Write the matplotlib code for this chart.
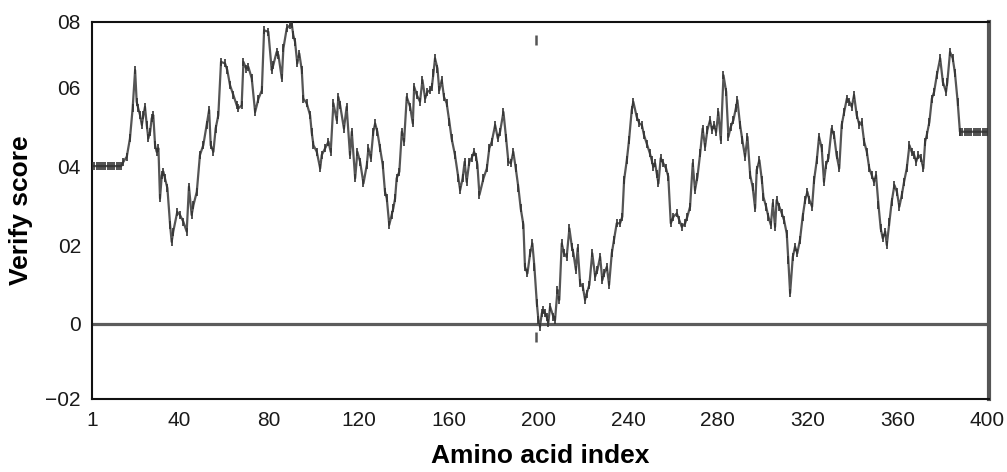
import matplotlib
matplotlib.use("Agg")
import matplotlib.pyplot as plt
import numpy as np

plt.rcParams["font.family"] = ["Liberation Sans", "DejaVu Sans"]

# residue index / verify score
plateau_start_x = list(range(1, 15))
plateau_start_y = [0.40] * 14

trace_x = [
    15.0, 16.5, 17.9, 19.1, 20.2, 20.9, 21.6, 22.4, 23.2, 23.9, 24.6, 25.4, 26.1, 26.9, 27.6, 28.3,
    29.1, 29.8, 30.6, 31.3, 32.1, 32.8, 33.5, 34.6, 35.8, 36.5, 37.2, 39.0, 40.2, 41.7, 43.2, 44.2,
    45.4, 46.2, 47.7, 49.1, 50.6, 52.1, 53.2, 53.9, 55.1, 56.1, 57.3, 58.5, 60.3, 61.3, 62.5, 64.0,
    65.5, 66.2, 67.7,
    68.5, 69.7, 70.7, 72.2, 73.7, 75.2, 76.7, 77.7, 79.6, 81.1, 81.8, 83.3, 84.1, 85.6, 86.3, 87.8,
    89.3, 90.0, 90.7, 91.5, 92.5, 93.4, 94.5, 95.2, 96.7, 98.2, 98.9, 99.7, 101.2, 102.7, 103.4,
    104.9, 106.4, 107.4, 108.6, 110.1, 110.8, 111.6, 113.3, 114.5, 116.0, 116.8, 118.3, 119.3,
    120.5, 122.0, 123.5, 124.2, 125.3, 126.4, 127.2, 128.2, 129.4, 130.6, 131.6, 132.4, 133.5,
    134.6,
    135.3, 136.1, 136.8, 138.0, 139.1, 140.1, 141.3, 142.8, 144.0, 144.6, 145.8, 147.2, 148.3,
    149.5, 150.5, 151.7, 152.5, 153.2, 153.9, 155.0, 155.8, 156.9, 157.9, 159.1, 160.3, 161.3,
    162.8, 164.3, 165.1, 166.2, 167.1, 168.0, 169.2, 170.2, 171.3, 172.2, 172.8, 173.7, 175.5,
    177.0, 178.1, 179.2, 180.7, 181.9, 182.9, 184.4, 185.6, 186.6, 187.7, 188.8, 189.9, 191.1,
    192.1, 193.3,
    194.0, 195.1, 196.3, 197.3, 198.2, 199.3, 200.0, 200.7, 201.5, 202.2, 203.0, 203.7, 204.4,
    205.2, 206.7, 207.4, 208.5, 209.3, 210.4, 211.4, 212.6, 213.8, 214.9, 215.6, 216.7, 217.5,
    218.6, 219.8, 220.8, 221.5, 222.7, 224.0, 225.3, 226.3, 227.5, 228.5, 229.3, 230.5, 231.5,
    232.7, 233.7, 234.9, 236.4, 237.4, 238.2, 239.4, 240.4, 241.6, 242.3, 243.8, 245.0, 246.1,
    247.1, 248.3, 249.7,
    250.5, 251.2, 252.0, 252.8, 253.5, 254.5, 255.7, 256.9, 257.9, 259.0, 260.2, 261.7, 262.8,
    263.9, 265.4, 266.4, 267.6, 268.8, 269.8, 270.9, 272.1, 273.2, 274.3, 275.3, 276.5, 277.4,
    278.3, 279.2, 280.2, 281.3, 282.5, 283.7, 284.7, 285.7, 286.9, 288.0, 288.7, 289.9, 290.9,
    292.1, 293.2, 294.4, 295.5, 296.6, 297.3, 298.5, 299.6, 300.3, 301.5, 302.5, 303.6, 304.5,
    305.5, 306.2, 307.4, 308.5, 309.5, 310.7, 311.4, 312.2, 313.4, 314.4, 315.4, 316.6, 317.8,
    318.9, 319.9, 320.8, 322.0, 322.9, 324.1, 325.1,
    326.3, 327.3, 328.2, 329.3, 330.7, 331.8, 332.9, 334.1, 335.2, 336.3, 337.5, 338.6, 339.7,
    340.7, 341.9, 343.1, 344.1, 345.2, 346.4, 347.5, 348.6, 349.6, 350.5, 351.6, 352.6, 353.5,
    354.6, 355.3, 356.5, 357.5, 358.7, 359.8, 360.9, 362.0, 363.0, 364.2, 365.4, 366.4, 367.5,
    368.4, 369.4, 370.5, 371.6, 372.4, 373.1, 374.3, 375.4, 376.4, 377.6, 379.1, 380.3, 381.7,
    382.3, 383.5, 384.7, 385.7, 386.9, 387.9,
]
trace_y = [
    0.411, 0.424, 0.470, 0.546, 0.643, 0.563, 0.546, 0.529, 0.504, 0.529, 0.550, 0.504, 0.470, 0.487, 0.521, 0.529,
    0.453, 0.436, 0.445, 0.318, 0.377, 0.386, 0.369, 0.344, 0.251, 0.208, 0.234, 0.284, 0.276, 0.259, 0.234, 0.348,
    0.276, 0.301, 0.335, 0.428, 0.453, 0.504, 0.542, 0.453, 0.436, 0.495, 0.529, 0.664, 0.660, 0.643, 0.605, 0.580,
    0.554, 0.546, 0.554,
    0.664, 0.647, 0.651, 0.622, 0.537, 0.571, 0.592, 0.744, 0.740, 0.643, 0.656, 0.689, 0.681, 0.622, 0.698, 0.749,
    0.757, 0.761, 0.732, 0.715, 0.660, 0.685, 0.643, 0.571, 0.559, 0.529, 0.487, 0.453, 0.436, 0.394, 0.428,
    0.445, 0.462, 0.436, 0.559, 0.516, 0.575, 0.554, 0.495, 0.550, 0.428, 0.487, 0.369, 0.436,
    0.411, 0.356, 0.403, 0.445, 0.420, 0.487, 0.508, 0.487, 0.445, 0.403, 0.335, 0.318, 0.251,
    0.276,
    0.293, 0.318, 0.369, 0.386, 0.487, 0.462, 0.575, 0.550, 0.508, 0.601, 0.580, 0.563, 0.618,
    0.571, 0.588, 0.592, 0.601, 0.635, 0.673, 0.647, 0.592, 0.618, 0.575, 0.559, 0.512, 0.470,
    0.428, 0.369, 0.339, 0.369, 0.411, 0.360, 0.411, 0.420, 0.436, 0.424, 0.403, 0.327, 0.369,
    0.394, 0.445, 0.462, 0.504, 0.470, 0.487, 0.537, 0.470, 0.411, 0.407, 0.436, 0.394, 0.344,
    0.293, 0.251,
    0.145, 0.128, 0.179, 0.204, 0.145, 0.052, 0.010, -0.007, 0.027, 0.035, 0.027, 0.018, 0.002,
    0.044, 0.018, 0.010, 0.086, 0.061, 0.204, 0.179, 0.170, 0.242, 0.196, 0.179, 0.137, 0.192,
    0.103, 0.094, 0.061, 0.077, 0.099, 0.179, 0.120, 0.137, 0.170, 0.111, 0.128, 0.145, 0.099,
    0.179, 0.213, 0.255, 0.255, 0.272, 0.365, 0.415, 0.466, 0.542, 0.563, 0.525, 0.508, 0.504,
    0.478, 0.457, 0.432,
    0.415, 0.398, 0.407, 0.380, 0.356, 0.420, 0.407, 0.394, 0.373, 0.255, 0.272, 0.280, 0.263,
    0.246, 0.255, 0.272, 0.297, 0.407, 0.339, 0.373, 0.432, 0.495, 0.449, 0.491, 0.516, 0.491,
    0.504, 0.486, 0.537, 0.466, 0.630, 0.588, 0.474, 0.499, 0.516, 0.546, 0.567, 0.504, 0.466,
    0.424, 0.474, 0.377, 0.347, 0.293, 0.390, 0.415, 0.365, 0.322, 0.297, 0.272, 0.251, 0.306,
    0.246, 0.314, 0.297, 0.280, 0.263, 0.229, 0.162, 0.078, 0.170, 0.196, 0.179, 0.213, 0.272,
    0.314, 0.335, 0.314, 0.297, 0.365, 0.415, 0.474,
    0.445, 0.360, 0.403, 0.420, 0.495, 0.478, 0.428, 0.394, 0.504, 0.537, 0.571, 0.563, 0.550,
    0.580, 0.529, 0.504, 0.512, 0.462, 0.436, 0.394, 0.377, 0.360, 0.377, 0.301, 0.242, 0.217,
    0.234, 0.200, 0.259, 0.310, 0.352, 0.335, 0.297, 0.327, 0.360, 0.394, 0.453, 0.436, 0.428,
    0.411, 0.428, 0.420, 0.394, 0.462, 0.478, 0.512, 0.571, 0.588, 0.630, 0.673, 0.613, 0.588,
    0.613, 0.689, 0.673, 0.635, 0.563, 0.487,
]
plateau_end_x = list(range(388, 401))
plateau_end_y = [0.487] * 13

# two stray points around residue 199
stray_x = [199, 199]
stray_y = [0.72, -0.033]

x_ticks = [1, 40, 80, 120, 160, 200, 240, 280, 320, 360, 400]
y_lo, y_hi = -0.19, 0.765
y_ticks = [y_lo, 0, 0.2, 0.4, 0.6, y_hi]
y_ticklabels = ["\u221202", "0", "02", "04", "06", "08"]

xs = np.array(plateau_start_x + trace_x + plateau_end_x, dtype=float)
ys = np.array(plateau_start_y + trace_y + plateau_end_y, dtype=float)

fig = plt.figure(figsize=(10.07, 4.72), dpi=100)
ax = fig.add_axes([0.0914, 0.1547, 0.8908, 0.7987])

ax.axhline(0, color="#5c5c5c", linewidth=2.3, zorder=1)
ax.plot(xs, ys, color="#555555", linewidth=1.6, zorder=2)
ax.plot(xs, ys, linestyle="none", marker="|", markersize=6, markeredgewidth=1.2,
        color="#333333", zorder=3)
ax.plot(stray_x, stray_y, linestyle="none", marker="|", markersize=7, markeredgewidth=1.8,
        color="#555555", zorder=3)

ax.set_xlim(1, 400.9)
ax.set_ylim(y_lo, y_hi)
ax.set_xticks(x_ticks)
ax.set_xticklabels([str(t) for t in x_ticks])
ax.set_yticks(y_ticks)
ax.set_yticklabels(y_ticklabels)
ax.tick_params(axis="both", length=0, labelsize=15, colors="#1a1a1a")
ax.tick_params(axis="x", pad=9)
ax.tick_params(axis="y", pad=8)

for side in ("left", "bottom", "top"):
    ax.spines[side].set_linewidth(1.5)
    ax.spines[side].set_color("#111111")
ax.spines["right"].set_linewidth(3)
ax.spines["right"].set_color("#555555")

ax.set_xlabel("Amino acid index", fontsize=19, fontweight="bold", labelpad=10)
ax.set_ylabel("Verify score", fontsize=19, fontweight="bold", labelpad=9)

fig.savefig("out.png", dpi=100)
